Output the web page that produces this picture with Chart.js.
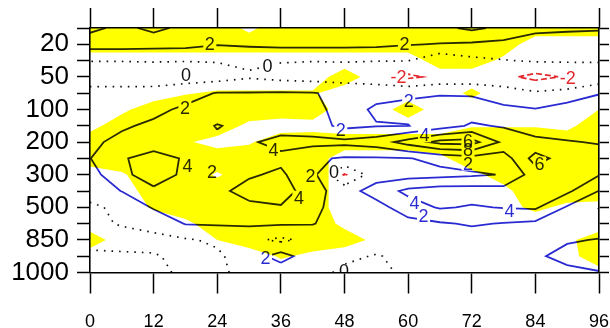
<!DOCTYPE html>
<html>
<head>
<meta charset="utf-8">
<script src="https://cdn.jsdelivr.net/npm/chart.js@4.4.1/dist/chart.umd.min.js"></script>
<style>
  html, body { margin: 0; padding: 0; background: #ffffff; }
  #wrap { width: 610px; height: 328px; }
</style>
</head>
<body>
<div id="wrap"><canvas id="cv" width="610" height="328"></canvas></div>
<script>
// Forecast hour of each grid column
const hours = [0, 6, 12, 18, 24, 30, 36, 42, 48, 54, 60, 66, 72, 78, 84, 90, 96];
// Vertical position of each grid row in axis units (1000 hPa = 0, 20 hPa = 7)
const rowPos = [0, 0.5, 1, 1.5, 2, 2.5, 3, 3.5, 4, 4.5, 5, 5.5, 6, 6.5, 7, 7.5];
// Pressure level tick labels, bottom to top
const pressureLabels = ['1000', '850', '500', '300', '200', '100', '50', '20'];
const hourTicks = [0, 12, 24, 36, 48, 60, 72, 84, 96];
// Contour levels drawn as lines
const levels = [-2, 0, 2, 4, 6, 8];

// Anomaly field, one row per level (bottom row first), one value per hour
const anomaly = [
  [ 0.6,  0.5,  0.4, -0.3, -0.3,  0.5,  0.8,  0.5, -0.3, -0.4,  0.3,  0.5,  0.6,  0.6,  0.8,  1.5,  1.9],
  [ 0.3,  0.2,  0.1, -0.3, -0.3,  1.0,  2.8,  0.8,  0.3, -0.1,  0.4,  0.6,  0.7,  0.7,  1.7,  2.6,  3.0],
  [-0.5, -0.5, -0.4, -0.2,  0.3,  0.5, -0.4,  0.6,  0.6,  0.7,  0.7,  0.8,  1.0,  0.9,  1.0,  1.8,  2.1],
  [-0.3,  0.1,  0.5,  2.1,  2.2,  2.3,  2.2,  2.1,  1.0,  1.1,  1.4,  1.8,  2.2,  1.9,  1.6,  1.2,  0.8],
  [-0.4,  0.5,  2.2,  2.6,  3.0,  3.6,  3.8,  2.5,  1.0,  1.3,  3.0,  4.2,  3.8,  4.1,  4.3,  1.8, -0.1],
  [ 0.9,  2.05, 3.6,  3.4,  3.6,  4.6,  5.2,  2.6,  1.2,  2.8,  4.5,  5.0,  5.0,  4.8,  4.6,  4.4,  1.95],
  [ 1.2,  3.5,  5.0,  3.6,  3.2,  3.8,  4.3,  2.6, -2.2,  1.2,  1.2,  1.4,  1.7,  2.1,  5.0,  5.2,  4.1],
  [ 1.95, 3.8,  4.8,  3.8,  3.2,  3.6,  3.6,  2.3,  1.8,  1.8,  1.9,  2.6,  3.2,  3.0,  6.8,  5.0,  4.6],
  [ 1.7,  2.4,  3.0,  3.2,  3.5,  3.8,  4.5,  4.6,  4.5,  5.0,  6.8,  8.6,  8.8,  5.5,  4.5,  4.1,  3.9],
  [ 1.3,  1.8,  2.3,  2.6,  4.15, 3.2,  3.3,  2.8,  1.5,  1.9,  1.95, 3.0,  4.3,  3.8,  3.0,  3.2,  3.4],
  [ 1.0,  1.3,  1.6,  2.3,  2.6,  2.8,  2.8,  2.6,  1.2,  2.3,  2.5,  2.6,  2.8,  2.4,  2.1,  3.0,  3.2],
  [ 0.6,  0.6,  0.7,  1.3,  2.1,  2.1,  2.2,  2.1,  1.5,  1.4,  1.7,  1.9,  1.8,  1.0,  0.3,  0.6,  1.9],
  [-0.9, -0.9, -1.0, -0.9, -0.8, -0.2, -0.6, -0.8, -0.9, -1.2, -2.4, -1.5, -1.4, -1.5, -2.6, -1.8, -1.5],
  [ 0.05, 0.05, 0.1,  0.05, 0.1,  0.3,  0.1,  0.05, 0.1,  0.05, 0.05,-1.5, -0.5, -0.1,  0.2,  0.2,  0.2],
  [ 2.8,  2.8,  2.7,  2.6,  2.1,  2.3,  2.5,  2.5,  2.5,  2.4,  2.1,  1.9,  1.7,  1.5,  1.2,  1.0,  1.0],
  [ 4.5,  3.5,  4.5,  3.5,  3.0,  2.9,  3.0,  3.2,  3.3,  3.2,  3.0,  3.5,  4.4,  3.5,  2.4,  2.3,  2.2]
];

// Significance (1 = significant), same layout as the anomaly field
const signif = [
  [0, 0, 0, 0,   0,   0,   0,   0,   0,   0,   0, 0, 0,    0,    0,    0,   0.2],
  [0, 0, 0, 0,   0,   0,   0.6, 0.3, 0,   0,   0, 0, 0,    0,    0,    0.2, 1],
  [1, 0, 0, 0.2, 0.5, 1,   1,   1,   0.9, 0.3, 0, 0, 0,    0,    0,    0.3, 1],
  [0, 0, 0, 0.3, 1,   1,   1,   1,   0.3, 0,   0, 0, 0,    0,    0,    0,   0],
  [0, 0, 0.6, 1, 1,   1,   1,   1,   0,   0,   0, 0, 0,    0.2,  0.7,  0.3, 0.2],
  [0, 0, 1, 1,   1,   1,   1,   1,   0,   0,   0, 0, 0,    0.3,  1,    1,   1],
  [0, 0.4, 1, 1, 0.4, 1,   1,   1,   0,   0,   0, 0, 0.3,  0.8,  1,    1,   1],
  [1, 1, 1, 1,   1,   1,   1,   1,   0,   0,   0, 0.3, 1,  1,    1,    1,   1],
  [1, 1, 1, 0.6, 0.2, 0.4, 1,   1,   1,   1,   1, 1, 1,    1,    1,    1,   1],
  [0.2, 1, 1, 1, 1,   0.3, 0.1, 0.2, 0,   0,   0, 0, 0.45, 0.45, 0.45, 0.3, 1],
  [0, 0.3, 1, 1, 1,   1,   1,   1,   0,   0,   1, 0, 0,    0,    0,    0.2, 0.5],
  [0, 0, 0, 0.45, 0.6, 0.6, 0.6, 0.6, 0,  0,   0, 0, 0.7,  0,    0,    0,   0],
  [0, 0, 0, 0,   0,   0,   0,   0,   1,   0,   0, 0, 0,    0,    0,    0,   0],
  [0, 0, 0, 0,   0,   0,   0,   0,   0,   0,   0, 1, 1,    0.3,  0,    0,   0],
  [1, 1, 1, 1,   1,   1,   1,   1,   1,   1,   1, 1, 1,    1,    0,    0,   0],
  [1, 1, 1, 1,   1,   0.3, 1,   1,   1,   1,   1, 1, 1,    1,    1,    1,   1]
];

// Contour line labels: hour, vertical position, text
const lineLabels = [
  { t: 22.6, p: 7.0,  text: '2' },
  { t: 59.3, p: 7.0,  text: '2' },
  { t: 18.1, p: 6.07, text: '0' },
  { t: 33.5, p: 6.32, text: '0' },
  { t: 58.2, p: 6.0,  text: '-2' },
  { t: 90.1, p: 5.98, text: '-2' },
  { t: 17.9, p: 5.05, text: '2' },
  { t: 60.1, p: 5.26, text: '2' },
  { t: 47.3, p: 4.37, text: '2' },
  { t: 63.1, p: 4.21, text: '4' },
  { t: 71.3, p: 4.02, text: '6' },
  { t: 71.3, p: 3.75, text: '8' },
  { t: 71.3, p: 3.34, text: '2' },
  { t: 34.6, p: 3.75, text: '4' },
  { t: 18.4, p: 3.28, text: '4' },
  { t: 23.0, p: 3.07, text: '2' },
  { t: 41.6, p: 2.97, text: '2' },
  { t: 46.0, p: 3.07, text: '0' },
  { t: 39.4, p: 2.29, text: '4' },
  { t: 61.2, p: 2.14, text: '4' },
  { t: 62.9, p: 1.73, text: '2' },
  { t: 79.1, p: 1.89, text: '4' },
  { t: 84.8, p: 3.34, text: '6' },
  { t: 33.1, p: 0.43, text: '2' },
  { t: 47.9, p: 0.03, text: '0' }
];

const BLUE = '#2a2ad2';
const RED = '#e5262b';
const BLACK = '#111111';
const YELLOW = '#ffff00';
const FONT = '"Liberation Sans", Arial, Helvetica, sans-serif';

// ---- marching squares: contour polylines for one level ----
function contourLines(grid, lev) {
  const nr = grid.length, nc = grid[0].length;
  const pts = {};
  const segs = [];
  for (let r = 0; r < nr - 1; r++) {
    for (let c = 0; c < nc - 1; c++) {
      const v = [grid[r][c], grid[r][c + 1], grid[r + 1][c + 1], grid[r + 1][c]];
      const X = [hours[c], hours[c + 1], hours[c + 1], hours[c]];
      const Y = [rowPos[r], rowPos[r], rowPos[r + 1], rowPos[r + 1]];
      const ins = v.map(a => a >= lev);
      const keys = ['h' + c + '_' + r, 'v' + (c + 1) + '_' + r, 'h' + c + '_' + (r + 1), 'v' + c + '_' + r];
      const cut = [];
      for (let i = 0; i < 4; i++) {
        const j = (i + 1) % 4;
        if (ins[i] !== ins[j]) {
          cut.push(i);
          if (!pts[keys[i]]) {
            const f = (lev - v[i]) / (v[j] - v[i]);
            pts[keys[i]] = { x: X[i] + f * (X[j] - X[i]), y: Y[i] + f * (Y[j] - Y[i]) };
          }
        }
      }
      if (cut.length === 2) {
        segs.push([keys[cut[0]], keys[cut[1]]]);
      } else if (cut.length === 4) {
        const centerIn = (v[0] + v[1] + v[2] + v[3]) / 4 >= lev;
        const pairs = ins[0]
          ? (centerIn ? [[0, 1], [2, 3]] : [[3, 0], [1, 2]])
          : (centerIn ? [[3, 0], [1, 2]] : [[0, 1], [2, 3]]);
        pairs.forEach(p => segs.push([keys[p[0]], keys[p[1]]]));
      }
    }
  }
  const byKey = {};
  segs.forEach((s, i) => s.forEach(k => { (byKey[k] = byKey[k] || []).push(i); }));
  const used = new Array(segs.length).fill(false);
  const lines = [];
  for (let i = 0; i < segs.length; i++) {
    if (used[i]) continue;
    used[i] = true;
    const chain = [segs[i][0], segs[i][1]];
    for (let dir = 0; dir < 2; dir++) {
      for (;;) {
        const end = chain[chain.length - 1];
        const nxt = (byKey[end] || []).find(j => !used[j]);
        if (nxt === undefined) break;
        used[nxt] = true;
        const s = segs[nxt];
        chain.push(s[0] === end ? s[1] : s[0]);
      }
      chain.reverse();
    }
    lines.push(chain.map(k => pts[k]));
  }
  return lines;
}

// ---- marching squares: filled cell polygons above a threshold ----
function shadePolygons(grid, th) {
  const polys = [];
  for (let r = 0; r < grid.length - 1; r++) {
    for (let c = 0; c < grid[0].length - 1; c++) {
      const v = [grid[r][c], grid[r][c + 1], grid[r + 1][c + 1], grid[r + 1][c]];
      const ins = v.map(a => a >= th);
      if (!ins.some(Boolean)) continue;
      const X = [hours[c], hours[c + 1], hours[c + 1], hours[c]];
      const Y = [rowPos[r], rowPos[r], rowPos[r + 1], rowPos[r + 1]];
      const poly = [];
      for (let i = 0; i < 4; i++) {
        const j = (i + 1) % 4;
        if (ins[i]) poly.push({ x: X[i], y: Y[i] });
        if (ins[i] !== ins[j]) {
          const f = (th - v[i]) / (v[j] - v[i]);
          poly.push({ x: X[i] + f * (X[j] - X[i]), y: Y[i] + f * (Y[j] - Y[i]) });
        }
      }
      polys.push(poly);
    }
  }
  return polys;
}

function styleFor(lev) {
  if (lev < 0) return { borderColor: RED, borderWidth: 1.7, borderDash: [6, 3] };
  if (lev === 0) return { borderColor: BLACK, borderWidth: 1.7, borderDash: [1.6, 6] };
  return { borderColor: BLUE, borderWidth: 1.8, borderDash: [] };
}

const datasets = [];
levels.forEach(lev => {
  contourLines(anomaly, lev).forEach(line => {
    datasets.push(Object.assign({
      data: line,
      showLine: true,
      pointRadius: 0,
      pointHoverRadius: 0,
      fill: false,
      tension: 0
    }, styleFor(lev)));
  });
});

const shading = shadePolygons(signif, 0.5);

function labelColor(text) {
  const v = parseFloat(text);
  return v < 0 ? RED : (v === 0 ? BLACK : BLUE);
}

// Shading under the lines, multiply blending for lines and labels
const layerPlugin = {
  id: 'layers',
  beforeDatasetsDraw(chart) {
    const { ctx, chartArea: a, scales } = chart;
    const xs = scales.x, ys = scales.y;
    ctx.save();
    ctx.beginPath();
    ctx.rect(a.left, a.top, a.right - a.left, a.bottom - a.top);
    ctx.clip();
    ctx.fillStyle = YELLOW;
    ctx.beginPath();
    shading.forEach(poly => {
      poly.forEach((p, i) => {
        const px = xs.getPixelForValue(p.x), py = ys.getPixelForValue(p.y);
        if (i === 0) ctx.moveTo(px, py); else ctx.lineTo(px, py);
      });
      ctx.closePath();
    });
    ctx.fill('nonzero');
    ctx.restore();

    // keep lines out of label boxes, blend them over the shading
    ctx.save();
    ctx.font = '18px ' + FONT;
    lineLabels.forEach(l => {
      const px = xs.getPixelForValue(l.t), py = ys.getPixelForValue(l.p);
      const w = ctx.measureText(l.text).width + 3;
      ctx.beginPath();
      ctx.rect(0, 0, chart.width, chart.height);
      ctx.rect(px - w / 2, py - 7, w, 14);
      ctx.clip('evenodd');
    });
    ctx.globalCompositeOperation = 'multiply';
  },
  afterDatasetsDraw(chart) {
    const { ctx, chartArea: a, scales } = chart;
    ctx.restore();
    ctx.save();
    ctx.beginPath();
    ctx.rect(a.left, a.top, a.right - a.left, a.bottom - a.top);
    ctx.clip();
    ctx.globalCompositeOperation = 'multiply';
    ctx.font = '18px ' + FONT;
    ctx.textAlign = 'center';
    ctx.textBaseline = 'middle';
    lineLabels.forEach(l => {
      ctx.fillStyle = labelColor(l.text);
      ctx.fillText(l.text, scales.x.getPixelForValue(l.t), scales.y.getPixelForValue(l.p) + 1);
    });
    ctx.restore();
  }
};

const halfSteps = rowPos.map(v => ({ value: v }));
const hourTickObjs = hourTicks.map(v => ({ value: v }));
const axisBorder = { display: true, color: '#000', width: 1.6, z: 1 };

new Chart(document.getElementById('cv'), {
  type: 'scatter',
  data: { datasets },
  options: {
    responsive: false,
    animation: false,
    devicePixelRatio: 1,
    layout: { padding: 0 },
    plugins: { legend: { display: false }, tooltip: { enabled: false } },
    events: [],
    scales: {
      x: {
        type: 'linear', position: 'bottom', min: 0, max: 96,
        afterBuildTicks: s => { s.ticks = hourTickObjs.map(t => ({ value: t.value })); },
        ticks: { color: '#000', font: { size: 18, family: FONT, lineHeight: 3.2 }, padding: 0, maxRotation: 0, autoSkip: false },
        grid: { drawOnChartArea: false, drawTicks: true, tickLength: 21, tickColor: '#000', tickWidth: 1.5 },
        border: axisBorder,
        afterFit: s => { s.height = 55.5; }
      },
      xT: {
        type: 'linear', position: 'top', min: 0, max: 96,
        afterBuildTicks: s => { s.ticks = hourTickObjs.map(t => ({ value: t.value })); },
        ticks: { display: false },
        grid: { drawOnChartArea: false, drawTicks: true, tickLength: 20, tickColor: '#000', tickWidth: 1.5 },
        border: axisBorder,
        afterFit: s => { s.height = 28; }
      },
      y: {
        type: 'linear', position: 'left', min: 0, max: 7.5,
        afterBuildTicks: s => { s.ticks = halfSteps.map(t => ({ value: t.value })); },
        ticks: {
          color: '#000', font: { size: 26, family: FONT }, padding: 8, autoSkip: false,
          callback: v => (Number.isInteger(v) && pressureLabels[v] !== undefined) ? pressureLabels[v] : ''
        },
        grid: { drawOnChartArea: false, drawTicks: true, tickLength: 13, tickColor: '#000', tickWidth: 1.5 },
        border: axisBorder,
        afterFit: s => { s.width = 90; }
      },
      yR: {
        type: 'linear', position: 'right', min: 0, max: 7.5,
        afterBuildTicks: s => { s.ticks = halfSteps.map(t => ({ value: t.value })); },
        ticks: { display: false },
        grid: { drawOnChartArea: false, drawTicks: true, tickLength: 10, tickColor: '#000', tickWidth: 1.5 },
        border: axisBorder,
        afterFit: s => { s.width = 11; }
      }
    }
  },
  plugins: [layerPlugin]
});
</script>
</body>
</html>
